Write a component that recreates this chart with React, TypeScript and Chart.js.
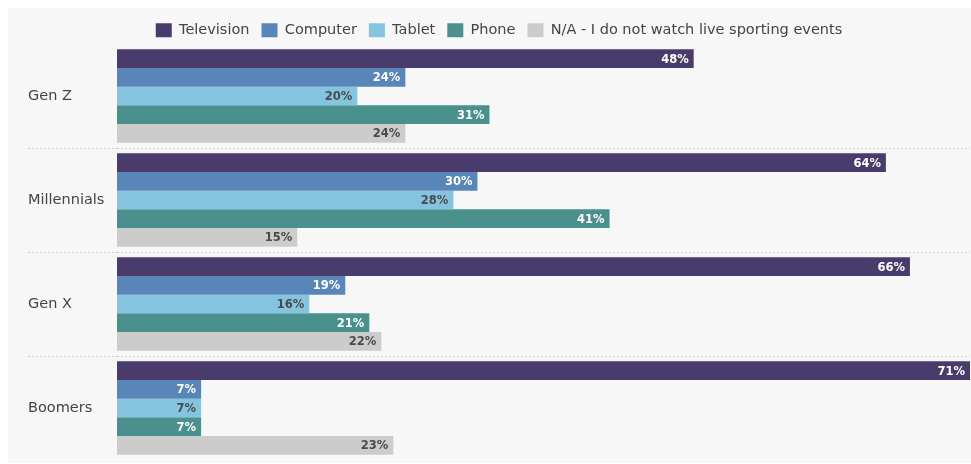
import React, { useEffect, useRef } from "react";
import { Chart, registerables } from "chart.js";

Chart.register(...registerables);

const categories = ["Gen Z", "Millennials", "Gen X", "Boomers"];
const seriesNames = ["Television", "Computer", "Tablet", "Phone", "N/A - I do not watch live sporting events"];
const television = [48, 64, 66, 71];
const computer = [24, 30, 19, 7];
const tablet = [20, 28, 16, 7];
const phone = [31, 41, 21, 7];
const notWatching = [24, 15, 22, 23];
const seriesColors = ["#493c6c", "#5886b8", "#84c4df", "#4a918e", "#cccccc"];
const labelColors = ["#ffffff", "#ffffff", "#4a4a4a", "#ffffff", "#4a4a4a"];

const FONT = "'DejaVu Sans', Verdana, sans-serif";

const valueLabels = {
  id: "valueLabels",
  afterDatasetsDraw(chart: any) {
    const ctx = chart.ctx;
    ctx.save();
    ctx.font = `bold 11.5px ${FONT}`;
    ctx.textAlign = "right";
    ctx.textBaseline = "middle";
    chart.data.datasets.forEach((ds: any, di: number) => {
      const meta = chart.getDatasetMeta(di);
      meta.data.forEach((bar: any, i: number) => {
        ctx.fillStyle = labelColors[di];
        ctx.fillText(ds.data[i] + "%", bar.x - 5, bar.y + 1);
      });
    });
    ctx.restore();
  },
};

const legendHeight = {
  id: "legendHeight",
  afterInit(chart: any) {
    const legend = chart.legend;
    if (!legend) return;
    const orig = legend.fit;
    legend.fit = function () {
      orig.call(this);
      this.height = 33;
    };
  },
};

export default function App() {
  const ref = useRef<HTMLCanvasElement>(null);
  useEffect(() => {
    const series = [television, computer, tablet, phone, notWatching];
    const gridColor = (c: any) =>
      c.index === undefined || c.index === 0 || c.index >= categories.length ? "rgba(0,0,0,0)" : "#cfcfcf";
    const chart = new Chart(ref.current!, {
      type: "bar",
      data: {
        labels: categories,
        datasets: series.map((d, i) => ({
          label: seriesNames[i],
          data: d,
          backgroundColor: seriesColors[i],
          borderWidth: 0,
          categoryPercentage: 0.9,
          barPercentage: 1,
        })),
      },
      options: {
        indexAxis: "y",
        animation: false,
        responsive: true,
        maintainAspectRatio: false,
        layout: { padding: { left: 20, right: 1, top: 3, bottom: 3 } },
        plugins: {
          legend: {
            position: "top",
            labels: {
              boxWidth: 16,
              boxHeight: 14,
              padding: 12,
              color: "#444444",
              font: { family: FONT, size: 14.5 },
            },
          },
          tooltip: { enabled: false },
        },
        scales: {
          x: { display: false, min: 0, max: 71 },
          y: {
            grid: {
              offset: true,
              color: gridColor,
              tickColor: gridColor,
              tickLength: 89,
              tickBorderDash: [2, 2],
              lineWidth: 1,
            },
            border: { display: false, dash: [2, 2] },
            ticks: {
              crossAlign: "far",
              padding: 0,
              color: "#444444",
              font: { family: FONT, size: 14.5 },
            },
            afterFit(scale: any) {
              scale.width = 89;
              scale.paddingTop = 0;
              scale.paddingBottom = 0;
            },
          },
        },
      },
      plugins: [legendHeight, valueLabels],
    } as any);
    return () => chart.destroy();
  }, []);
  return (
    <div style={{ position: "fixed", left: 8, top: 8, width: 963, height: 455, background: "#f7f7f7" }}>
      <canvas ref={ref} />
    </div>
  );
}
